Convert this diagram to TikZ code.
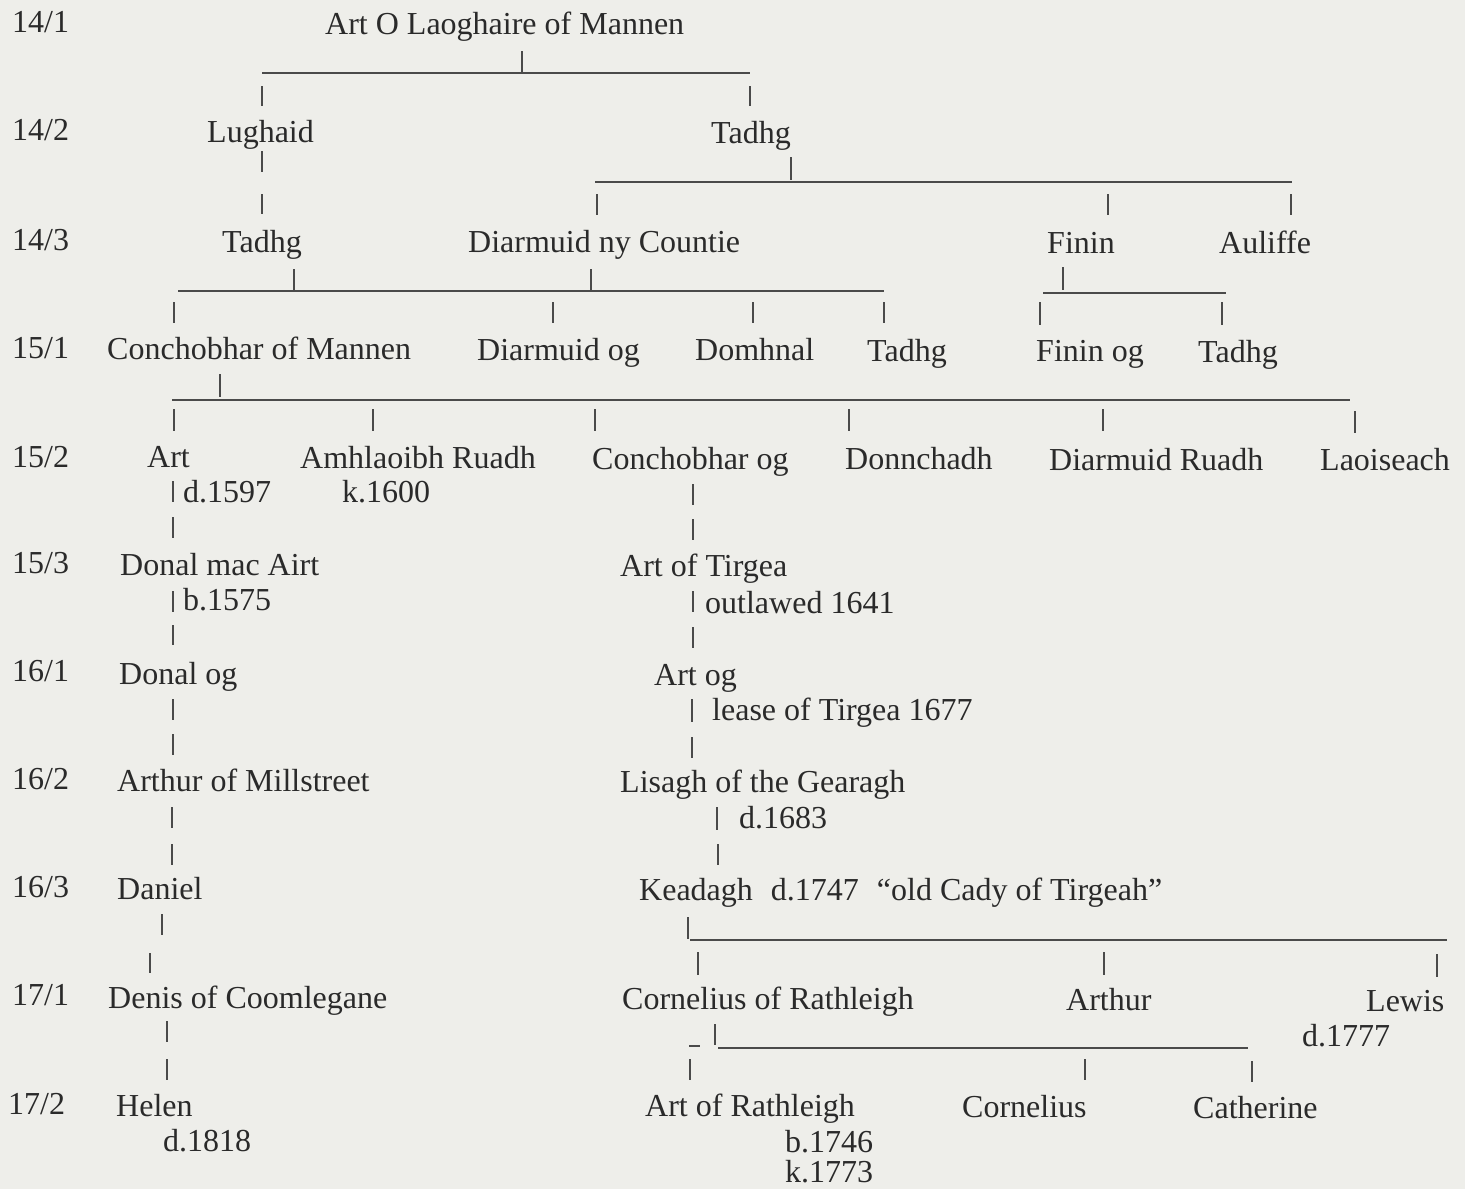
\documentclass[tikz,border=0pt]{standalone}
\usepackage{fontspec}
\setmainfont{Liberation Serif}
\definecolor{bgc}{HTML}{EEEEEA}
\definecolor{inkc}{HTML}{2A2A2A}
\definecolor{linec}{HTML}{4A4A4A}
\begin{document}
\begin{tikzpicture}[x=1pt,y=-1pt,
  lbl/.style={anchor=base west,inner sep=0pt,text=inkc,font=\fontsize{32}{38}\selectfont},
  ln/.style={draw=linec,line width=1.9pt}]
\fill[bgc] (0,0) rectangle (1465,1189);
\useasboundingbox (0,0) rectangle (1465,1189);
% ---------- generation labels
\node[lbl] (r141) at (12,32) {14/1};
\node[lbl] (r142) at (12,140) {14/2};
\node[lbl] (r143) at (12,250) {14/3};
\node[lbl] (r151) at (12,358) {15/1};
\node[lbl] (r152) at (12,467) {15/2};
\node[lbl] (r153) at (12,573) {15/3};
\node[lbl] (r161) at (12,681) {16/1};
\node[lbl] (r162) at (12,789) {16/2};
\node[lbl] (r163) at (12,897) {16/3};
\node[lbl] (r171) at (12,1005) {17/1};
\node[lbl] (r172) at (8,1114) {17/2};
% ---------- names
\node[lbl] (artol) at (325,34) {Art O Laoghaire of Mannen};
\node[lbl] (lughaid) at (207,142) {Lughaid};
\node[lbl] (tadhga) at (711,143) {Tadhg};
\node[lbl] (tadhgb) at (222,252) {Tadhg};
\node[lbl] (diarnc) at (468,252) {Diarmuid ny Countie};
\node[lbl] (finin) at (1047,253) {Finin};
\node[lbl] (auliffe) at (1219,253) {Auliffe};
\node[lbl] (conchm) at (107,359) {Conchobhar of Mannen};
\node[lbl] (diarog) at (477,360) {Diarmuid og};
\node[lbl] (domhnal) at (695,360) {Domhnal};
\node[lbl] (tadhgc) at (867,361) {Tadhg};
\node[lbl] (fininog) at (1036,361) {Finin og};
\node[lbl] (tadhgd) at (1198,362) {Tadhg};
\node[lbl] (art) at (147,467) {Art};
\node[lbl] (amhl) at (300,468) {Amhlaoibh Ruadh};
\node[lbl] (conchog) at (592,469) {Conchobhar og};
\node[lbl] (donn) at (845,469) {Donnchadh};
\node[lbl] (diarr) at (1049,470) {Diarmuid Ruadh};
\node[lbl] (laoi) at (1320,470) {Laoiseach};
\node[lbl] (d1597) at (183,502) {d.1597};
\node[lbl] (k1600) at (342,502) {k.1600};
\node[lbl] (donal) at (120,575) {Donal mac Airt};
\node[lbl] (artt) at (620,576) {Art of Tirgea};
\node[lbl] (b1575) at (183,610) {b.1575};
\node[lbl] (outl) at (705,613) {outlawed 1641};
\node[lbl] (donalog) at (119,684) {Donal og};
\node[lbl] (artog) at (654,685) {Art og};
\node[lbl] (lease) at (712,720) {lease of Tirgea 1677};
\node[lbl] (arthurm) at (117,791) {Arthur of Millstreet};
\node[lbl] (lisagh) at (620,792) {Lisagh of the Gearagh};
\node[lbl] (d1683) at (739,828) {d.1683};
\node[lbl] (daniel) at (117,899) {Daniel};
\node[lbl] (keadagh) at (639,900) {Keadagh\hspace{18pt}d.1747\hspace{18pt}“old Cady of Tirgeah”};
\node[lbl] (denis) at (108,1008) {Denis of Coomlegane};
\node[lbl] (cornr) at (622,1009) {Cornelius of Rathleigh};
\node[lbl] (arthur) at (1066,1010) {Arthur};
\node[lbl] (lewis) at (1366,1011) {Lewis};
\node[lbl] (d1777) at (1302,1046) {d.1777};
\node[lbl] (helen) at (116,1116) {Helen};
\node[lbl] (artr) at (645,1116) {Art of Rathleigh};
\node[lbl] (cornelius) at (962,1117) {Cornelius};
\node[lbl] (catherine) at (1193,1118) {Catherine};
\node[lbl] (d1818) at (163,1151) {d.1818};
\node[lbl] (b1746) at (785,1152) {b.1746};
\node[lbl] (k1773) at (785,1182) {k.1773};
% ---------- lines
% 14/1
\draw[ln] (522,51)--(522,72);
\draw[ln] (262,73)--(750,73);
\draw[ln] (262,86)--(262,106);
\draw[ln] (750,86)--(750,106);
% 14/2
\draw[ln] (262,151)--(262,172);
\draw[ln] (262,194)--(262,214);
\draw[ln] (791,157)--(791,180);
\draw[ln] (595,182)--(1292,182);
\draw[ln] (597,194)--(597,215);
\draw[ln] (1108,194)--(1108,215);
\draw[ln] (1291,194)--(1291,215);
% 14/3
\draw[ln] (294,269)--(294,290);
\draw[ln] (591,269)--(591,290);
\draw[ln] (178,291)--(884,291);
\draw[ln] (174,302)--(174,323);
\draw[ln] (553,302)--(553,323);
\draw[ln] (753,302)--(753,323);
\draw[ln] (884,302)--(884,323);
\draw[ln] (1063,267)--(1063,290);
\draw[ln] (1043,293)--(1226,293);
\draw[ln] (1040,302)--(1040,325);
\draw[ln] (1222,302)--(1222,325);
% 15/1
\draw[ln] (220,374)--(220,397);
\draw[ln] (172,400)--(1350,400);
\draw[ln] (174,409)--(174,431);
\draw[ln] (373,409)--(373,431);
\draw[ln] (595,409)--(595,431);
\draw[ln] (849,409)--(849,431);
\draw[ln] (1103,409)--(1103,431);
\draw[ln] (1355,411)--(1355,433);
% 15/2
\draw[ln] (173,481)--(173,502);
\draw[ln] (173,517)--(173,538);
\draw[ln] (693,484)--(693,505);
\draw[ln] (693,519)--(693,540);
% 15/3
\draw[ln] (173,591)--(173,612);
\draw[ln] (173,625)--(173,645);
\draw[ln] (693,591)--(693,612);
\draw[ln] (693,627)--(693,648);
% 16/1
\draw[ln] (173,699)--(173,720);
\draw[ln] (173,734)--(173,755);
\draw[ln] (692,699)--(692,722);
\draw[ln] (692,737)--(692,758);
% 16/2
\draw[ln] (172,807)--(172,828);
\draw[ln] (172,844)--(172,865);
\draw[ln] (717,807)--(717,830);
\draw[ln] (718,844)--(718,865);
% 16/3
\draw[ln] (162,914)--(162,935);
\draw[ln] (150,953)--(150,973);
\draw[ln] (688,917)--(688,939);
\draw[ln] (690,940)--(1447,940);
\draw[ln] (698,952)--(698,975);
\draw[ln] (1104,952)--(1104,975);
\draw[ln] (1437,954)--(1437,977);
% 17/1
\draw[ln] (167,1021)--(167,1042);
\draw[ln] (167,1059)--(167,1080);
\draw[ln] (689,1046)--(700,1046);
\draw[ln] (715,1024)--(715,1045);
\draw[ln] (718,1048)--(1248,1048);
\draw[ln] (690,1059)--(690,1080);
\draw[ln] (1085,1059)--(1085,1080);
\draw[ln] (1252,1061)--(1252,1082);
\end{tikzpicture}
\end{document}
